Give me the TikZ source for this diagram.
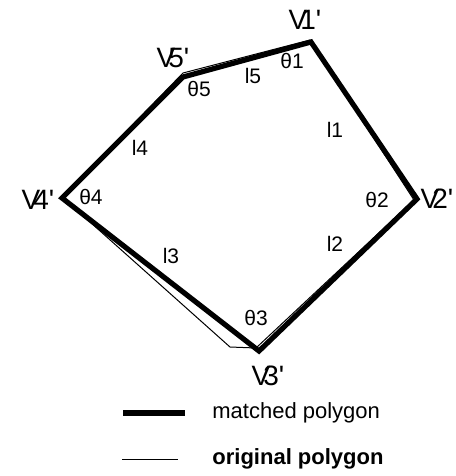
\documentclass[tikz,border=0pt]{standalone}
\usepackage{fontspec}
\setmainfont{Liberation Sans}
\usepackage{tikz}
\usetikzlibrary{positioning}

\begin{document}
\begin{tikzpicture}[x=0.5pt, y=-0.5pt,
  vlabel/.style={font=\fontsize{14}{16}\selectfont, inner sep=0pt},
  alabel/.style={font=\fontsize{10.5}{12}\selectfont, inner sep=0pt},
  matched/.style={line width=2.6pt, line join=miter},
  original/.style={line width=0.5pt},
  legtext/.style={font=\fontsize{11}{13}\selectfont, anchor=west, inner sep=0pt}]

\useasboundingbox (0,0) rectangle (455,476);

% --- Original polygon ---
\coordinate (o1) at (310,40);
\coordinate (o2) at (414,200);
\coordinate (o3) at (256,348);
\coordinate (o3b) at (230,347);
\coordinate (o4) at (62,197);
\coordinate (o5) at (183,73);
\draw[original] (o1) -- (o2) -- (o3) -- (o3b) -- (o4) -- (o5) -- cycle;

% --- Matched polygon ---
\coordinate (v1) at (311,42);
\coordinate (v2) at (417,199);
\coordinate (v3) at (259,351);
\coordinate (v4) at (62,198);
\coordinate (v5) at (183,77);
\draw[matched] (v1) -- (v2) -- (v3) -- (v4) -- (v5) -- cycle;

% --- Vertex labels ---
\node[vlabel] (lv1) at (305,20) {V\kern-0.25em1\textquotesingle};
\node[vlabel] (lv2) at (437,199) {V\kern-0.25em2\textquotesingle};
\node[vlabel] (lv3) at (268,376) {V\kern-0.25em3\textquotesingle};
\node[vlabel] (lv4) at (38,200) {V\kern-0.25em4\textquotesingle};
\node[vlabel] (lv5) at (173,58) {V\kern-0.25em5\textquotesingle};

% --- Angles ---
\node[alabel] (t1) at (292,61) {θ1};
\node[alabel] (t2) at (377,200) {θ2};
\node[alabel] (t3) at (256,318) {θ3};
\node[alabel] (t4) at (91,197) {θ4};
\node[alabel] (t5) at (199,89) {θ5};

% --- Edge lengths ---
\node[alabel] (e1) at (335,130) {l1};
\node[alabel] (e2) at (335,244) {l2};
\node[alabel] (e3) at (171,256) {l3};
\node[alabel] (e4) at (140,148) {l4};
\node[alabel] (e5) at (253,76) {l5};

% --- Legend ---
\coordinate (m1) at (123,413);
\coordinate (m2) at (185,413);
\draw[line width=2.6pt] (m1) -- (m2);
\node[legtext] (mt) at (212,413) {matched polygon};

\coordinate (g1) at (122,459);
\coordinate (g2) at (178,459);
\draw[original] (g1) -- (g2);
\node[legtext, font=\fontsize{11}{13}\selectfont\bfseries] (gt) at (212,459) {original polygon};

\end{tikzpicture}
\end{document}
